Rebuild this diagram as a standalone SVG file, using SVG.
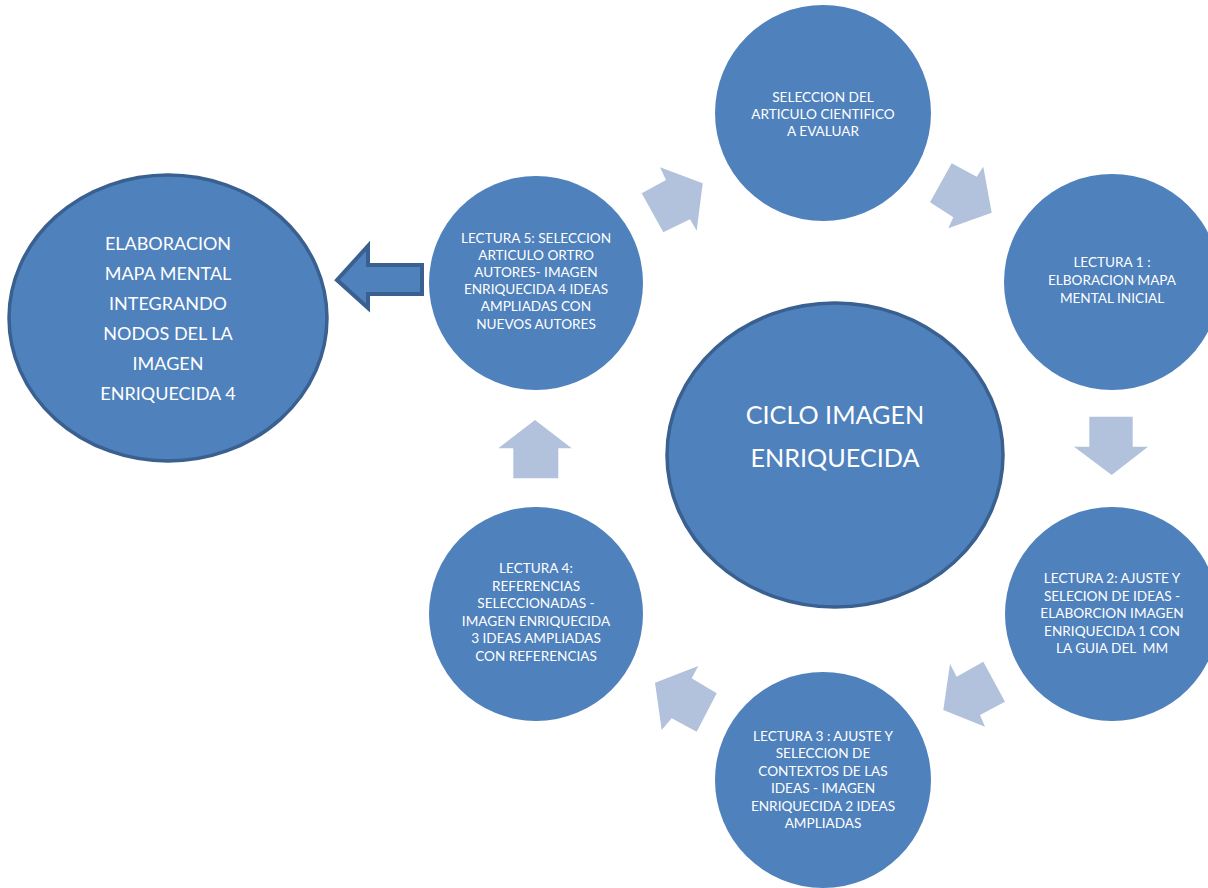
<svg xmlns="http://www.w3.org/2000/svg" width="1208" height="888" viewBox="0 0 1208 888">
<style>
.c{fill:#4f81bd}
.cs{fill:#4f81bd;stroke:#3a6090;stroke-width:3.5}
.a{fill:#b3c2dc}
.t{font-family:Lato,"Open Sans",sans-serif;fill:#fff;text-anchor:middle;font-size:13.6px;white-space:pre}
.tm{font-family:Lato,"Open Sans",sans-serif;fill:#fff;text-anchor:middle;font-size:18px}
.tl{font-family:Lato,"Open Sans",sans-serif;fill:#fff;text-anchor:middle;font-size:25.2px}
</style>
<rect width="1208" height="888" fill="#fff"/>
<g id="connectors">
<polygon class="a" points="641.7,193.3 663.3,232.3 690,219.3 696.7,230.7 702.7,183.3 660,167.3 666,180"/>
<polygon class="a" points="951.7,163.3 976.7,176.7 983.3,166.7 991.7,212.7 948.3,228.3 953.3,217.3 930,202.3"/>
<polygon class="a" points="1089.3,416.7 1132.7,416.7 1132.7,446.7 1148,446.7 1111.7,475 1074,446.7 1089.3,446.7"/>
<polygon class="a" points="950,664 956.7,676.7 983.3,661.7 1005,701.7 980,715 985,726.7 943.3,710"/>
<polygon class="a" points="655,682.7 698.3,666 691.7,678.3 716.7,693.3 696.7,731.7 671.7,718.3 661.7,730"/>
<polygon class="a" points="535,420 571.7,448.3 558.3,448.3 558.3,478.3 513.3,478.3 513.3,448.3 498.3,448.3"/>
<polygon points="337,280 368,246 368,265 422,265 422,294 368,294 368,308" fill="#4f81bd" stroke="#3a6090" stroke-width="4" stroke-linejoin="miter"/>
</g>
<g id="n-top">
<circle class="c" cx="823" cy="113" r="108"/>
<text class="t"><tspan x="823" y="102">SELECCION DEL</tspan><tspan x="823" y="119">ARTICULO CIENTIFICO</tspan><tspan x="823" y="136">A EVALUAR</tspan></text>
</g>
<g id="n-l1">
<circle class="c" cx="1112" cy="282" r="108"/>
<text class="t"><tspan x="1112" y="267">LECTURA 1 :</tspan><tspan x="1112" y="285">ELBORACION MAPA</tspan><tspan x="1112" y="303">MENTAL INICIAL</tspan></text>
</g>
<g id="n-l2">
<circle class="c" cx="1112" cy="614" r="107"/>
<text class="t" xml:space="preserve"><tspan x="1112" y="583">LECTURA 2: AJUSTE Y</tspan><tspan x="1112" y="601">SELECION DE IDEAS -</tspan><tspan x="1112" y="618">ELABORCION IMAGEN</tspan><tspan x="1112" y="636">ENRIQUECIDA 1 CON</tspan><tspan x="1112" y="653">LA GUIA DEL  MM</tspan></text>
</g>
<g id="n-l3">
<circle class="c" cx="823" cy="780" r="108"/>
<text class="t"><tspan x="823" y="741">LECTURA 3 : AJUSTE Y</tspan><tspan x="823" y="758">SELECCION DE</tspan><tspan x="823" y="776">CONTEXTOS DE LAS</tspan><tspan x="823" y="793">IDEAS - IMAGEN</tspan><tspan x="823" y="811">ENRIQUECIDA 2 IDEAS</tspan><tspan x="823" y="828">AMPLIADAS</tspan></text>
</g>
<g id="n-l4">
<circle class="c" cx="536" cy="614" r="107"/>
<text class="t"><tspan x="536" y="573">LECTURA 4:</tspan><tspan x="536" y="591">REFERENCIAS</tspan><tspan x="536" y="608">SELECCIONADAS -</tspan><tspan x="536" y="626">IMAGEN ENRIQUECIDA</tspan><tspan x="536" y="643">3 IDEAS AMPLIADAS</tspan><tspan x="536" y="661">CON REFERENCIAS</tspan></text>
</g>
<g id="n-l5">
<circle class="c" cx="536" cy="283" r="107"/>
<text class="t"><tspan x="536" y="243">LECTURA 5: SELECCION</tspan><tspan x="536" y="260">ARTICULO ORTRO</tspan><tspan x="536" y="277">AUTORES- IMAGEN</tspan><tspan x="536" y="294">ENRIQUECIDA 4 IDEAS</tspan><tspan x="536" y="311">AMPLIADAS CON</tspan><tspan x="536" y="329">NUEVOS AUTORES</tspan></text>
</g>
<g id="n-center">
<ellipse class="cs" cx="835" cy="455" rx="168" ry="152"/>
<text class="tl"><tspan x="835" y="424">CICLO IMAGEN</tspan><tspan x="835" y="467">ENRIQUECIDA</tspan></text>
</g>
<g id="n-final">
<ellipse class="cs" cx="168" cy="318" rx="159" ry="143" stroke-width="4"/>
<text class="tm"><tspan x="168" y="250">ELABORACION</tspan><tspan x="168" y="280">MAPA MENTAL</tspan><tspan x="168" y="310">INTEGRANDO</tspan><tspan x="168" y="340">NODOS DEL LA</tspan><tspan x="168" y="370">IMAGEN</tspan><tspan x="168" y="400">ENRIQUECIDA 4</tspan></text>
</g>
</svg>
